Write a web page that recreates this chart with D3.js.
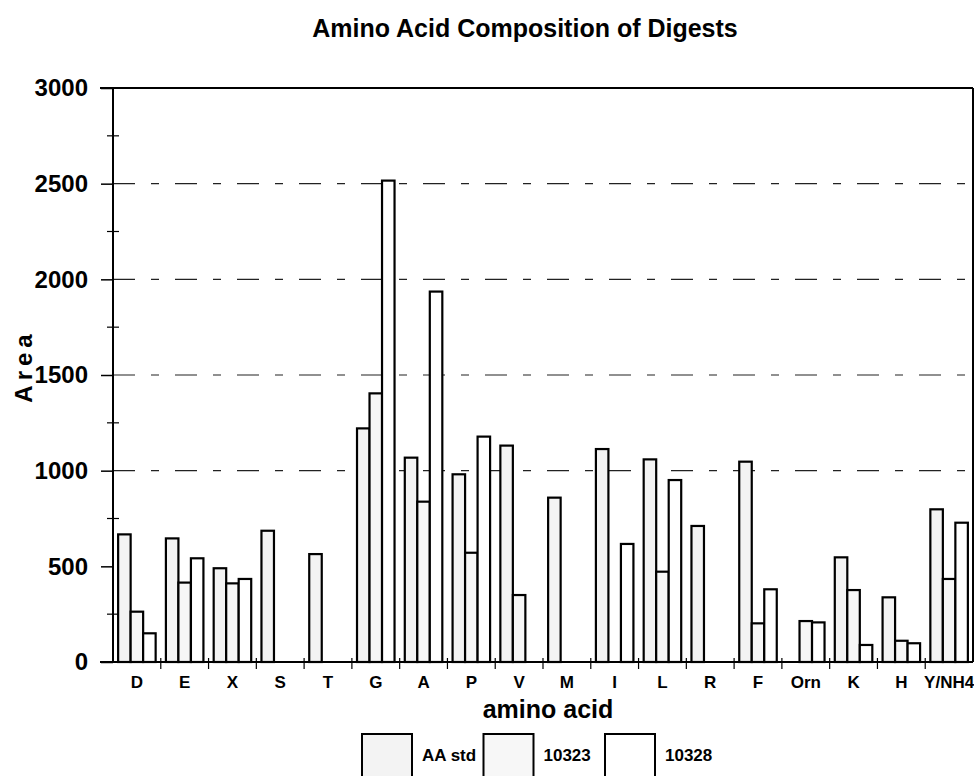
<!DOCTYPE html>
<html>
<head>
<meta charset="utf-8">
<script src="https://cdn.jsdelivr.net/npm/d3@7"></script>
<style>
  html, body { margin: 0; padding: 0; background: #fff; }
  svg text { font-family: "Liberation Sans", Arial, Helvetica, sans-serif; font-weight: bold; fill: #000; }
</style>
</head>
<body>
<svg id="chart" width="974" height="776"></svg>
<script>
// Amino acids on the x axis
const categories = ["D", "E", "X", "S", "T", "G", "A", "P", "V", "M", "I", "L", "R", "F", "Orn", "K", "H", "Y/NH4"];
const seriesNames = ["AA std", "10323", "10328"];

// Peak areas per amino acid (null = no peak)
const aaStd       = [667, 646, 490, 686, 564, 1221, 1068, 981, 1131, 859, 1113, 1059, 711, 1047, null, 547, 338, 798];
const digest10323 = [263, 415, 411, null, null, 1404, 838, 571, 350, null, null, 472, null, 202, 214, 376, 111, 434];
const digest10328 = [150, 542, 434, null, null, 2516, 1936, 1178, null, null, 617, 951, null, 380, 207, 89, 98, 728];

const yTickValues = [0, 500, 1000, 1500, 2000, 2500, 3000];
const yMinorTickValues = [250, 750, 1250, 1750, 2250, 2750];
const gridValues = [1000, 1500, 2000, 2500];

const seriesValues = [aaStd, digest10323, digest10328];
const seriesFill = ["#f3f3f3", "#f7f7f7", "#ffffff"];

const svg = d3.select("#chart");
const plot = { left: 113, right: 973, top: 88, bottom: 662 };

const x0 = d3.scaleBand().domain(categories).range([plot.left, plot.right]).padding(0);
const x1 = d3.scaleBand().domain(seriesNames).range([0, x0.bandwidth()])
  .paddingInner(0).paddingOuter(0.41);
const y = d3.scaleLinear().domain([0, 3000]).range([plot.bottom, plot.top]);

// Dashed horizontal grid lines behind the bars
svg.append("g")
  .selectAll("line")
  .data(gridValues)
  .join("line")
  .attr("x1", plot.left)
  .attr("x2", plot.right)
  .attr("y1", d => y(d))
  .attr("y2", d => y(d))
  .attr("stroke", "#222")
  .attr("stroke-width", 1.2)
  .attr("stroke-dasharray", "22,16,8,16");

// Grouped bars
const rows = categories.map((c, i) => ({
  cat: c,
  vals: seriesNames.map((s, j) => ({ s, j, v: seriesValues[j][i] })).filter(d => d.v != null)
}));

svg.append("g")
  .selectAll("g")
  .data(rows)
  .join("g")
  .attr("transform", d => `translate(${x0(d.cat)},0)`)
  .selectAll("rect")
  .data(d => d.vals)
  .join("rect")
  .attr("x", d => x1(d.s))
  .attr("width", x1.bandwidth())
  .attr("y", d => y(d.v))
  .attr("height", d => y(0) - y(d.v))
  .attr("fill", d => seriesFill[d.j])
  .attr("stroke", "#000")
  .attr("stroke-width", 2.2);

// Y axis with labels
const yAxis = svg.append("g")
  .attr("transform", `translate(${plot.left},0)`)
  .call(d3.axisLeft(y).tickValues(yTickValues).tickSize(12).tickPadding(13).tickFormat(d3.format("d")));
yAxis.select(".domain").remove();
yAxis.selectAll(".tick line").attr("stroke", "#000").attr("stroke-width", 1.5);
yAxis.selectAll(".tick text").style("font-size", "24px");

// Minor ticks crossing the y axis
svg.append("g")
  .selectAll("line")
  .data(yMinorTickValues)
  .join("line")
  .attr("x1", plot.left - 6)
  .attr("x2", plot.left + 6)
  .attr("y1", d => y(d))
  .attr("y2", d => y(d))
  .attr("stroke", "#000")
  .attr("stroke-width", 1.2);

// X axis category labels
const xAxis = svg.append("g")
  .attr("transform", `translate(0,${plot.bottom})`)
  .call(d3.axisBottom(x0).tickSize(0).tickPadding(14));
xAxis.select(".domain").remove();
xAxis.selectAll(".tick text").style("font-size", "17px");

// Separators between categories
svg.append("g")
  .selectAll("line")
  .data(categories.slice(1))
  .join("line")
  .attr("x1", d => x0(d))
  .attr("x2", d => x0(d))
  .attr("y1", plot.bottom - 4)
  .attr("y2", plot.bottom + 7)
  .attr("stroke", "#000")
  .attr("stroke-width", 1.2);

// Frame
const frame = svg.append("g").attr("stroke", "#000").attr("stroke-width", 2);
frame.append("line").attr("x1", plot.left - 13).attr("x2", plot.right).attr("y1", plot.top).attr("y2", plot.top);
frame.append("line").attr("x1", plot.left - 13).attr("x2", plot.right).attr("y1", plot.bottom).attr("y2", plot.bottom);
frame.append("line").attr("x1", plot.left).attr("x2", plot.left).attr("y1", plot.top).attr("y2", plot.bottom);
frame.append("line").attr("x1", plot.right).attr("x2", plot.right).attr("y1", plot.top).attr("y2", plot.bottom);

// Titles
svg.append("text")
  .attr("x", 525).attr("y", 37)
  .attr("text-anchor", "middle")
  .style("font-size", "25px")
  .text("Amino Acid Composition of Digests");

svg.append("text")
  .attr("x", 548).attr("y", 718)
  .attr("text-anchor", "middle")
  .style("font-size", "25px")
  .text("amino acid");

svg.append("text")
  .attr("transform", "translate(32,366) rotate(-90)")
  .attr("text-anchor", "middle")
  .style("font-size", "24px")
  .style("letter-spacing", "5px")
  .text("Area");

// Legend
const legend = svg.append("g").attr("transform", "translate(362,734)");
const item = legend.selectAll("g")
  .data(seriesNames)
  .join("g")
  .attr("transform", (d, i) => `translate(${i * 121.5},0)`);
item.append("rect")
  .attr("width", 50).attr("height", 48)
  .attr("fill", (d, i) => seriesFill[i])
  .attr("stroke", "#000")
  .attr("stroke-width", 2);
item.append("text")
  .attr("x", 60).attr("y", 27)
  .style("font-size", "17px")
  .text(d => d);
</script>
</body>
</html>
